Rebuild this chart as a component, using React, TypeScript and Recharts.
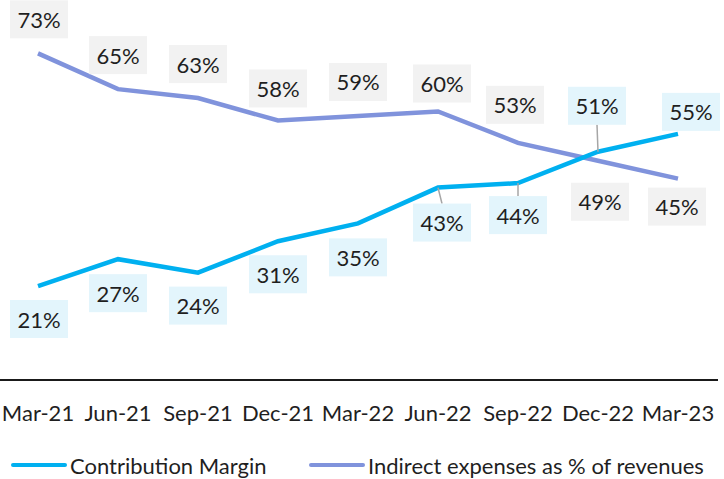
import { LineChart, Line, XAxis, YAxis, Legend } from 'recharts'

const quarters = ['Mar-21', 'Jun-21', 'Sep-21', 'Dec-21', 'Mar-22', 'Jun-22', 'Sep-22', 'Dec-22', 'Mar-23']
const contributionMargin = [21, 27, 24, 31, 35, 43, 44, 51, 55]
const indirectExpenses = [73, 65, 63, 58, 59, 60, 53, 49, 45]

// label box placement relative to each point: [dx, dy, leader line?]
const cmLabelPos: Array<[number, number, boolean]> = [
  [1, 33], [0, 34], [0, 33], [0, 33], [0, 34], [4, 35, true], [0, 32, true], [-1, -46, true], [13, -22],
].map((p) => [p[0], p[1], Boolean(p[2])] as [number, number, boolean])
const ieLabelPos: Array<[number, number, boolean]> = [
  [1, -34], [0, -34], [0, -34], [0, -32], [0, -34], [4, -28], [-3, -38], [2, 41], [-1, 28],
].map((p) => [p[0], p[1], false] as [number, number, boolean])

const data = quarters.map((q, i) => ({
  quarter: q,
  cm: contributionMargin[i],
  ie: indirectExpenses[i],
}))

const CYAN = '#00b0f0'
const PERIWINKLE = '#8093dc'
const TEXT = '#1f1f1f'
const FONT = 'Lato, sans-serif'

function makeLabel(pos: Array<[number, number, boolean]>, fill: string) {
  return (props: any) => {
    const { x, y, index, value } = props
    const [dx, dy, leader] = pos[index]
    const cx = x + dx
    const cy = y + dy
    const edge = dy > 0 ? cy - 19 : cy + 19
    return (
      <g>
        {leader && <line x1={x} y1={y} x2={cx} y2={edge} stroke="#a6a6a6" strokeWidth={1.5} />}
        <rect x={cx - 29} y={cy - 19} width={58} height={38} fill={fill} />
        <text
          x={cx}
          y={cy}
          textAnchor="middle"
          dominantBaseline="central"
          fill={TEXT}
          fontSize={22}
          fontFamily={FONT}
        >
          {value}%
        </text>
      </g>
    )
  }
}

function LegendContent() {
  const item = (left: number, color: string, label: string) => (
    <div style={{ position: 'absolute', left, top: 0, height: 36, display: 'flex', alignItems: 'center' }}>
      <span style={{ display: 'inline-block', width: 56, height: 4, borderRadius: 2, background: color, marginRight: 3 }} />
      <span style={{ fontFamily: FONT, fontSize: 22, color: TEXT, whiteSpace: 'nowrap' }}>{label}</span>
    </div>
  )
  return (
    <div style={{ position: 'relative', height: 36, marginTop: 4 }}>
      {item(11, CYAN, 'Contribution Margin')}
      {item(309, PERIWINKLE, 'Indirect expenses as % of revenues')}
    </div>
  )
}

export default function App() {
  return (
    <div style={{ position: 'absolute', left: 0, top: 0, width: 724, height: 479, background: '#fff' }}>
      <LineChart width={724} height={479} data={data} margin={{ top: 22, right: 6, bottom: 0, left: -2 }}>
        <XAxis
          dataKey="quarter"
          axisLine={{ stroke: '#1a1a1a', strokeWidth: 2 }}
          tickLine={false}
          tickMargin={19}
          height={63}
          interval={0}
          padding={{ left: 40, right: 40 }}
          tick={{ fill: TEXT, fontSize: 22, fontFamily: FONT }}
        />
        <YAxis hide domain={[0, 80]} />
        <Legend
          verticalAlign="bottom"
          height={36}
          wrapperStyle={{ left: 0, width: 724 }}
          content={<LegendContent />}
        />
        <Line
          dataKey="ie"
          stroke={PERIWINKLE}
          strokeWidth={4.5}
          dot={false}
          activeDot={false}
          isAnimationActive={false}
          label={makeLabel(ieLabelPos, '#f2f2f2')}
        />
        <Line
          dataKey="cm"
          stroke={CYAN}
          strokeWidth={4.5}
          dot={false}
          activeDot={false}
          isAnimationActive={false}
          label={makeLabel(cmLabelPos, '#e3f5fc')}
        />
      </LineChart>
    </div>
  )
}
